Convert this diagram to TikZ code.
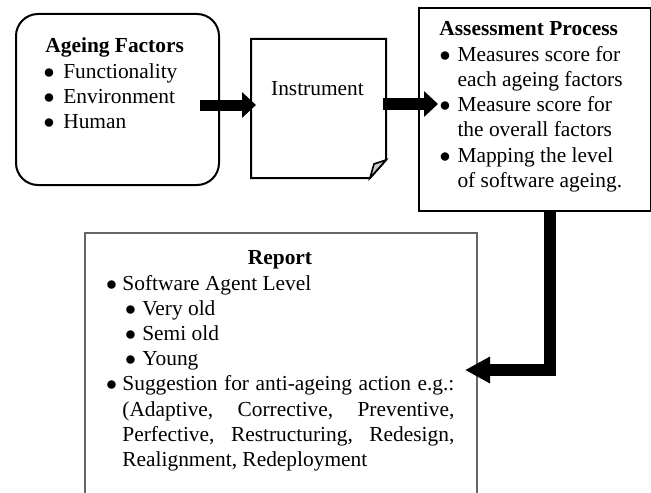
\documentclass[tikz,border=0pt]{standalone}
\usepackage{fontspec}
\setmainfont{Liberation Serif}
\usetikzlibrary{arrows.meta,calc}
\newcommand{\bul}{\makebox[3.75pt]{$\bullet$}}
\tikzset{
  box/.style={draw,line width=1pt,inner sep=0pt,anchor=north west},
  txt/.style={inner sep=0pt,anchor=base west},
  fatarrow/.style={line width=5.5pt,-{Triangle[length=7pt,width=12.5pt]}},
  elbowarrow/.style={line width=6pt,-{Triangle[length=12.5pt,width=12.5pt]}},
}

\begin{document}
\begin{tikzpicture}[x=0.5pt,y=-0.5pt,font=\fontsize{10.7}{12.6}\selectfont]
  \useasboundingbox (0,0) rectangle (651,492);
  % boxes
  \node[box,rounded corners=11pt,minimum width=101.5pt,minimum height=85.5pt] (ageing) at (15,13) {};
  \node[box,draw=none,minimum width=66.5pt,minimum height=68.5pt] (instrument) at (251,39) {};
  \node[box,minimum width=116pt,minimum height=101.5pt] (assess) at (418,7) {};
  \node[box,draw=none,minimum width=195pt,minimum height=129.5pt] (report) at (85,233) {};
  % note shape with folded corner
  \draw[line width=1pt] (instrument.north west) -- (instrument.north east)
     -- ([shift={(0,-18)}]instrument.south east) -- ([shift={(-16,0)}]instrument.south east)
     -- (instrument.south west) -- cycle;
  \filldraw[fill=black!20,line width=0.8pt] ([shift={(0,-18)}]instrument.south east)
     -- ([shift={(-12,-14)}]instrument.south east) -- ([shift={(-16,0)}]instrument.south east) -- cycle;
  \draw[black!60,line width=0.7pt] (report.south west) |- (report.north east) -- (report.south east);
  % texts
  \node[txt] (agetxt) at (45,53) {\begin{tabular}[t]{@{}l@{\hspace{5.2pt}}l@{}}
    \multicolumn{2}{@{}l}{\textbf{Ageing Factors}}\\
    \bul & Functionality\\
    \bul & Environment\\
    \bul & Human
  \end{tabular}};
  \node[txt,anchor=base] (insttxt) at (317.5,95) {Instrument};
  \node[txt] (assesstxt) at (439,36) {\begin{tabular}[t]{@{}l@{\hspace{4.3pt}}l@{}}
    \multicolumn{2}{@{}l}{\textbf{Assessment Process}}\\
    \hspace{1pt}\bul & Measures score for\\
     & each ageing factors\\
    \hspace{1pt}\bul & Measure score for\\
     & the overall factors\\
    \hspace{1pt}\bul & Mapping the level\\
     & of software ageing.
  \end{tabular}};
  \node[txt,anchor=base] (reptitle) at (280,264) {\textbf{Report}};
  \node[txt] (reptxt) at (107.5,290) {\begin{tabular}[t]{@{}l@{\hspace{3.5pt}}p{166pt}@{}}
    \bul & Software Agent Level\\
     & \hspace{2.2pt}\bul\hspace{4pt}Very old\\
     & \hspace{2.2pt}\bul\hspace{4pt}Semi old\\
     & \hspace{2.2pt}\bul\hspace{4pt}Young\\
    \bul & Suggestion for anti-ageing action e.g.:\linebreak
      (Adaptive, Corrective, Preventive,\linebreak
      Perfective, Restructuring, Redesign,\linebreak
      Realignment, Redeployment
  \end{tabular}};
  % arrows
  \draw[fatarrow] ([shift={(-20,5.5)}]ageing.east) -- ([shift={(5,-3.5)}]instrument.west);
  \draw[fatarrow,line width=6pt] ([shift={(-3,-4.5)}]instrument.east) -- ([shift={(20,-5.5)}]assess.west);
  \draw[elbowarrow] ([shift={(15,0)}]assess.south) |- ([shift={(-12,6.5)}]report.east);
\end{tikzpicture}
\end{document}
